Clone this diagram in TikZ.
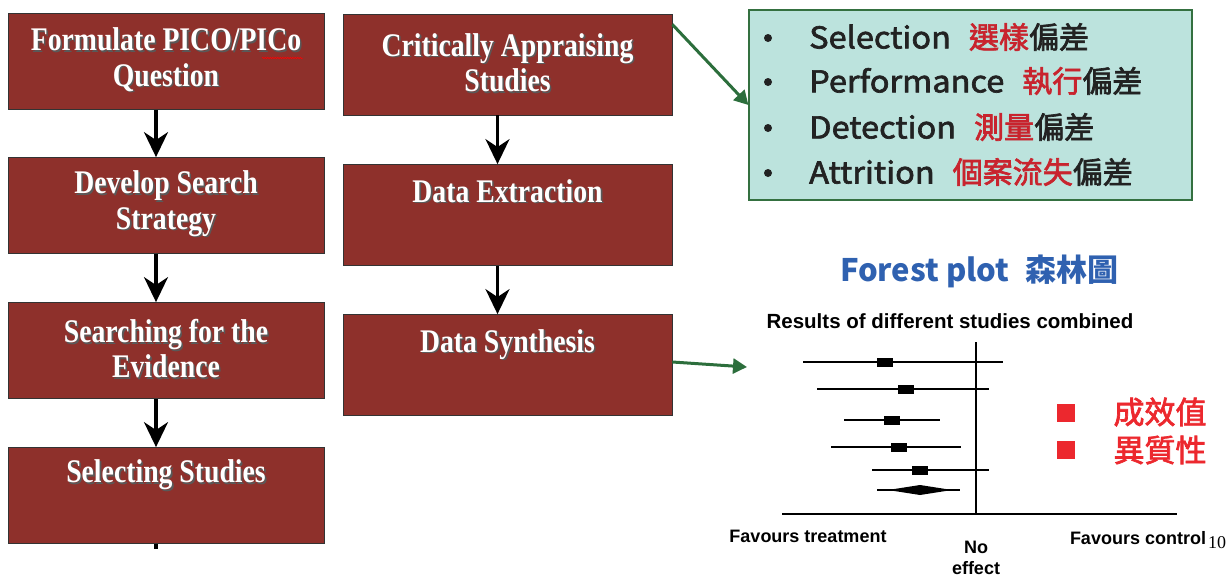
\documentclass[tikz,border=0pt]{standalone}
\usepackage{fontspec}
\usetikzlibrary{arrows.meta,calc,decorations.pathmorphing}
\setmainfont{Liberation Serif}
\newfontfamily\boxfont[FakeStretch=0.84]{Liberation Serif}
\newfontfamily\cjk{Noto Sans CJK TC}
\newfontfamily\cjkfb[FakeBold=2.2]{Noto Sans CJK TC}
\newfontfamily\latw[FakeStretch=1.085,FakeBold=2.2]{Noto Sans CJK TC}
\newfontfamily\arialf{Liberation Sans}
\definecolor{boxred}{RGB}{142,48,43}
\definecolor{tealfill}{RGB}{188,227,221}
\definecolor{gborder}{RGB}{52,112,64}
\definecolor{garrow}{RGB}{44,110,60}
\definecolor{ptitle}{RGB}{47,97,176}
\definecolor{cred}{RGB}{200,36,46}
\definecolor{bred}{RGB}{236,40,46}
\definecolor{dtext}{RGB}{34,34,34}
\newcommand\shd[1]{\leavevmode\rlap{\kern1.6pt\raisebox{-1.6pt}{\textcolor{black!65}{#1}}}#1}
\newcommand\lw[1]{{\latw #1}}
\tikzset{
  box/.style={draw=black!80, line width=0.8pt, fill=boxred, inner sep=0pt},
  lbox/.style={box, minimum width=316pt, minimum height=96pt},
  mbox/.style={box, minimum width=329pt, minimum height=101pt},
  btxt/.style={text=white, font=\boxfont\bfseries\fontsize{33}{35.5}\selectfont, align=center, inner sep=0pt},
  darr/.style={line width=3.2pt, -{Stealth[length=25pt,width=24pt,inset=8pt]}},
  garr/.style={draw=garrow, line width=3pt, -{Triangle[length=14pt,width=15pt]}},
  gtxt/.style={anchor=west, inner sep=0pt, text=dtext, font=\cjkfb\fontsize{30}{33}\selectfont},
  bul/.style={circle, fill=dtext, minimum size=8pt, inner sep=0pt},
  ar/.style={font=\arialf\bfseries\fontsize{18}{20}\selectfont, inner sep=0pt},
  ci/.style={line width=1.3pt},
  sq/.style={fill=black, minimum width=16pt, minimum height=9pt, inner sep=0pt},
  rsq/.style={fill=bred, minimum width=18pt, minimum height=18pt, inner sep=0pt},
  rtxt/.style={text=bred, font=\cjkfb\fontsize{31}{34}\selectfont, inner sep=0pt},
}
\begin{document}
\begin{tikzpicture}[x=1pt,y=-1pt]
\clip (0,0) rectangle (1232,574);
\useasboundingbox (0,0) rectangle (1232,574);
% left column
\node[lbox] (b1) at (166,61.5) {};
\node[lbox] (b2) at (166,205.5) {};
\node[lbox] (b3) at (166,350.5) {};
\node[lbox] (b4) at (166,495.5) {};
% middle column
\node[mbox] (m1) at (507.5,64.5) {};
\node[mbox] (m2) at (507.5,215) {};
\node[mbox] (m3) at (507.5,365) {};
% box texts with shadow
\node[btxt] (b1t) at ($(b1)+(0,-1)$) {\shd{Formulate PICO/PICo}\\\shd{Question}};
\node[btxt] (b2t) at ($(b2)+(0,-1)$) {\shd{Develop Search}\\\shd{Strategy}};
\node[btxt] (b3t) at ($(b3)+(0,-1)$) {\shd{Searching for the}\\\shd{Evidence}};
\node[btxt] (b4t) at ($(b4)+(0,-1)$) {\shd{Selecting Studies}\\\strut};
\node[btxt] (m1t) at ($(m1)+(0,-1)$) {\shd{Critically Appraising}\\\shd{Studies}};
\node[btxt] (m2t) at ($(m2)+(0,-1)$) {\shd{Data Extraction}\\\strut};
\node[btxt] (m3t) at ($(m3)+(0,-1)$) {\shd{Data Synthesis}\\\strut};
% spell-check squiggle
\coordinate (sq1) at (262,58);
\coordinate (sq2) at (303,58);
\draw[red, line width=0.5pt, decorate, decoration={snake, segment length=2.5pt, amplitude=0.8pt}] (sq1) -- (sq2);
% black arrows
\draw[darr] ([xshift=-10pt]b1.south) -- ([xshift=-10pt]b2.north);
\draw[darr] ([xshift=-10pt]b2.south) -- ([xshift=-10pt]b3.north);
\draw[darr] ([xshift=-10pt]b3.south) -- ([xshift=-10pt]b4.north);
\coordinate (b4end) at (156,549);
\draw[line width=3.2pt] ([xshift=-10pt]b4.south) -- (b4end);
\draw[darr] ([xshift=-10pt]m1.south) -- ([xshift=-10pt]m2.north);
\draw[darr] ([xshift=-10pt]m2.south) -- ([xshift=-10pt]m3.north);
% green bias box
\node[draw=gborder, line width=1.2pt, fill=tealfill, minimum width=443pt, minimum height=190pt, inner sep=0pt] (g) at (970.5,105) {};
\foreach \y/\i in {38/1,82/2,128/3,173/4}{ \node[bul] (bu\i) at (768,\y) {}; }
\node[gtxt] (l1) at (809,37) {\lw{Selection}\hspace{0.6em}{\color{cred}選樣}偏差};
\node[gtxt] (l2) at (809,81) {\lw{Performance}\hspace{0.6em}{\color{cred}執行}偏差};
\node[gtxt] (l3) at (809,127) {\lw{Detection}\hspace{0.6em}{\color{cred}測量}偏差};
\node[gtxt] (l4) at (809,172) {\lw{Attrition}\hspace{0.6em}{\color{cred}個案流失}偏差};
% green arrows
\draw[garr] ([yshift=40pt]m1.east) -- (g.west);
\coordinate (fp) at (747,367);
\draw[garr] ([yshift=3pt]m3.east) -- (fp);
% forest plot
\node[text=ptitle, font=\cjk\bfseries\fontsize{31}{35}\selectfont, inner sep=0pt] (ft) at (979,271) {Forest plot\hspace{0.5em}森林圖};
\node[ar, font=\arialf\bfseries\fontsize{20.5}{22}\selectfont] (rt) at (950,321) {Results of different studies combined};
\coordinate (vt) at (976,342);
\coordinate (vb) at (976,514);
\coordinate (hl) at (782,514);
\coordinate (hr) at (1177,514);
\draw[ci, line width=1.8pt] (vt) -- (vb);
\draw[ci, line width=1.8pt] (hl) -- (hr);
\foreach \y/\a/\b/\c in {362/803/1003/885, 389/817/989/906, 420/844/940/892, 447/831/961/899, 470/872/989/920}{
  \draw[ci] (\a,\y) -- (\b,\y);
  \node[sq] at (\c,\y) {};
}
\draw[ci] (877,490) -- (960,490);
\fill (888,490) -- (920,485) -- (952,490) -- (920,495) -- cycle;
\node[rsq] (r1) at (1066,412.5) {};
\node[rsq] (r2) at (1066,450) {};
\node[rtxt] (t1) at (1160,412) {成效值};
\node[rtxt] (t2) at (1160,450) {異質性};
\node[ar] (ftr) at (808,536) {Favours treatment};
\node[ar] (fco) at (1138,538) {Favours control};
\node[font=\fontsize{18}{20}\selectfont, inner sep=0pt, anchor=west] (ten) at (1208,543) {10};
\node[ar, align=center, anchor=north, font=\arialf\bfseries\fontsize{18}{21}\selectfont] (ne) at (976,541) {No\\effect};
\end{tikzpicture}
\end{document}
